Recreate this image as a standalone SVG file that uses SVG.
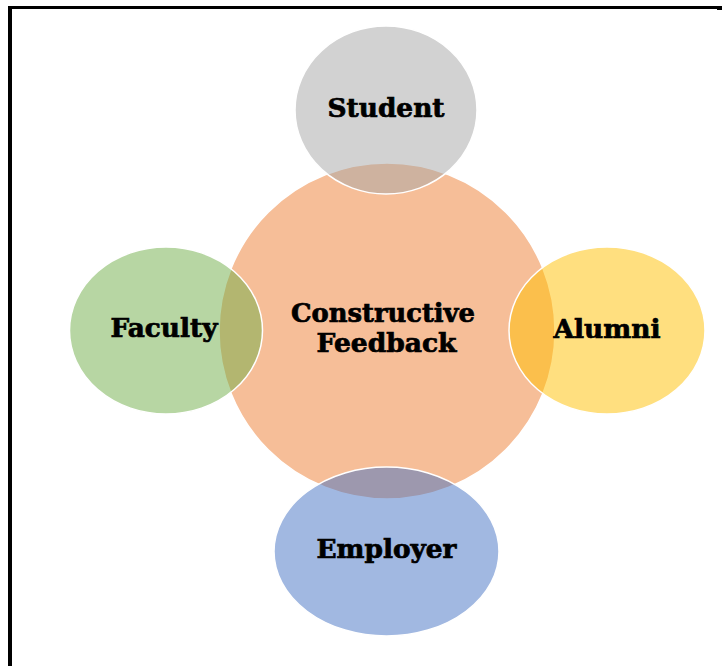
<svg xmlns="http://www.w3.org/2000/svg" width="722" height="666" viewBox="0 0 722 666">
<style>
.lbl{font-family:"DejaVu Serif","Liberation Serif",serif;font-weight:bold;font-size:25.5px;fill:#000;stroke:#000;stroke-width:0.7;text-anchor:middle}
.sat{stroke:#fff;stroke-width:1.5;fill-opacity:0.5}
</style>
<rect width="722" height="666" fill="#fff"/>
<g id="frame" fill="#000">
<rect x="8" y="6" width="714" height="3"/>
<rect x="8" y="6" width="4" height="660"/>
<rect x="717" y="6" width="5" height="4"/>
</g>
<g id="connectors"></g>
<g id="center">
<circle cx="387" cy="331" r="168" fill="#ED7D31" fill-opacity="0.5" stroke="#fff" stroke-width="1.5"/>
<text class="lbl" x="383" y="322" textLength="184" lengthAdjust="spacingAndGlyphs">Constructive</text>
<text class="lbl" x="386.5" y="352" textLength="140" lengthAdjust="spacingAndGlyphs">Feedback</text>
</g>
<g id="student">
<ellipse class="sat" cx="386" cy="110" rx="91" ry="84" fill="#A5A5A5"/>
<text class="lbl" x="386" y="117" textLength="117" lengthAdjust="spacingAndGlyphs">Student</text>
</g>
<g id="faculty">
<ellipse class="sat" cx="166" cy="330.5" rx="96.5" ry="83.5" fill="#70AD47"/>
<text class="lbl" x="164" y="337" textLength="107" lengthAdjust="spacingAndGlyphs">Faculty</text>
</g>
<g id="alumni">
<ellipse class="sat" cx="607" cy="330.5" rx="98" ry="83.5" fill="#FFC000"/>
<text class="lbl" x="607" y="338" textLength="107" lengthAdjust="spacingAndGlyphs">Alumni</text>
</g>
<g id="employer">
<ellipse class="sat" cx="386.5" cy="551.5" rx="112.5" ry="84.5" fill="#4472C4"/>
<text class="lbl" x="386.5" y="558" textLength="140" lengthAdjust="spacingAndGlyphs">Employer</text>
</g>
</svg>
